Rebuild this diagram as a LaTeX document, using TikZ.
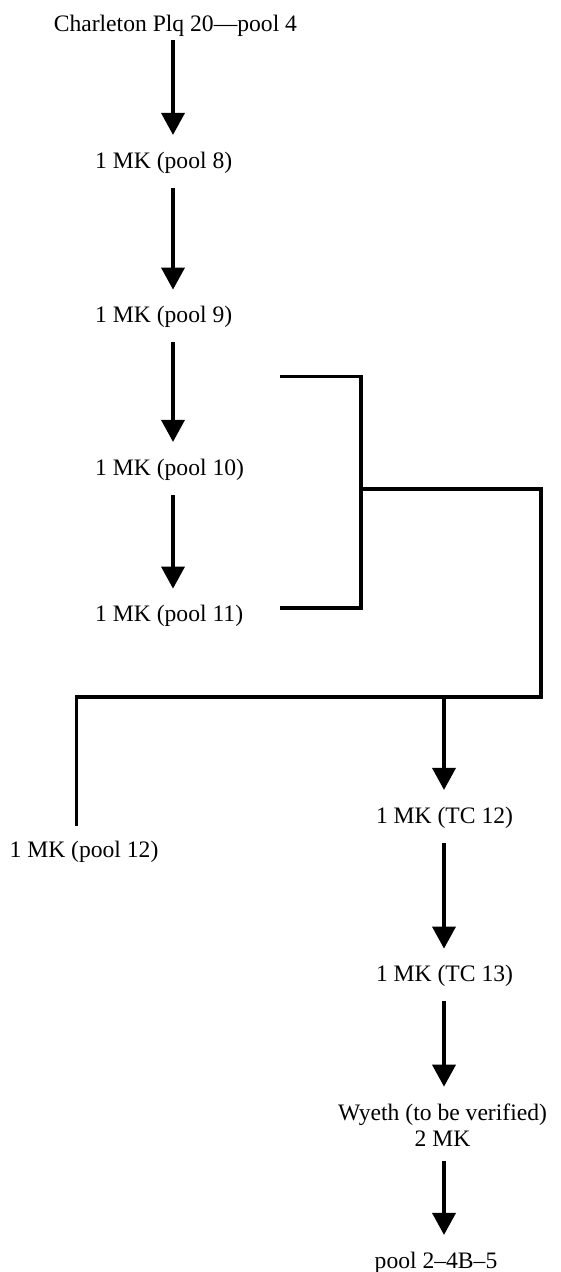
\documentclass[tikz,border=0pt]{standalone}
\usepackage{fontspec}
\setmainfont{Liberation Serif}
\usetikzlibrary{arrows.meta,calc}

\begin{document}
\begin{tikzpicture}[x=1pt, y=-1pt,
    entry/.style={inner xsep=0pt, inner ysep=14.5pt, font=\fontsize{23.6}{26.7}\selectfont},
    arr/.style={-{Triangle[width=23pt,length=22pt]}, line width=3.6pt, shorten >=2pt},
    bar/.style={line width=3.3pt}]
    \useasboundingbox (0,0) rectangle (560,1272);

    % x positions of the two arrow columns
    \coordinate (ls) at (173,0);
    \coordinate (rs) at (444,0);

    \node[entry, anchor=base, inner ysep=3.3pt] (start) at (175.4,31.7) {Charleton Plq 20---pool 4};
    \node[entry, anchor=base west] (p8) at (95,168) {1 MK (pool 8)};
    \node[entry, anchor=base west] (p9) at (95,322.7) {1 MK (pool 9)};
    \node[entry, anchor=base west] (p10) at (95,475) {1 MK (pool 10)};
    \node[entry, anchor=base west] (p11) at (95,621.7) {1 MK (pool 11)};
    \node[entry, anchor=base] (p12) at (84,857) {1 MK (pool 12)};
    \node[entry, anchor=base] (tc12) at (444.5,823) {1 MK (TC 12)};
    \node[entry, anchor=base] (tc13) at (444.5,981.7) {1 MK (TC 13)};
    \node[entry, anchor=base, align=center] (wyeth) at (442.5,1146.7) {Wyeth (to be verified)\\2 MK};
    \node[entry, anchor=base] (pool) at (436,1268) {pool 2--4B--5};

    \draw[arr] (start.south -| ls) -- (p8.north -| ls);
    \draw[arr] (p8.south -| ls) -- (p9.north -| ls);
    \draw[arr] (p9.south -| ls) -- (p10.north -| ls);
    \draw[arr] (p10.south -| ls) -- (p11.north -| ls);

    % bracket joining pools 10 and 11
    \coordinate (bt) at (280,376.7);
    \coordinate (bb) at (280,608);
    \coordinate (bx) at (361,489);
    \coordinate (rc) at (541,697);
    \coordinate (lc) at (76.7,697);
    \draw[bar] (bt) -| (bx) |- (bb);
    \draw[bar] (bx) -| (rc) -- (lc) -- (lc |- p12.north);

    \draw[arr] (rs |- rc) -- (tc12.north -| rs);
    \draw[arr] (tc12.south -| rs) -- (tc13.north -| rs);
    \draw[arr] (tc13.south -| rs) -- (wyeth.north -| rs);
    \draw[arr] (wyeth.south -| rs) -- (pool.north -| rs);
\end{tikzpicture}
\end{document}
